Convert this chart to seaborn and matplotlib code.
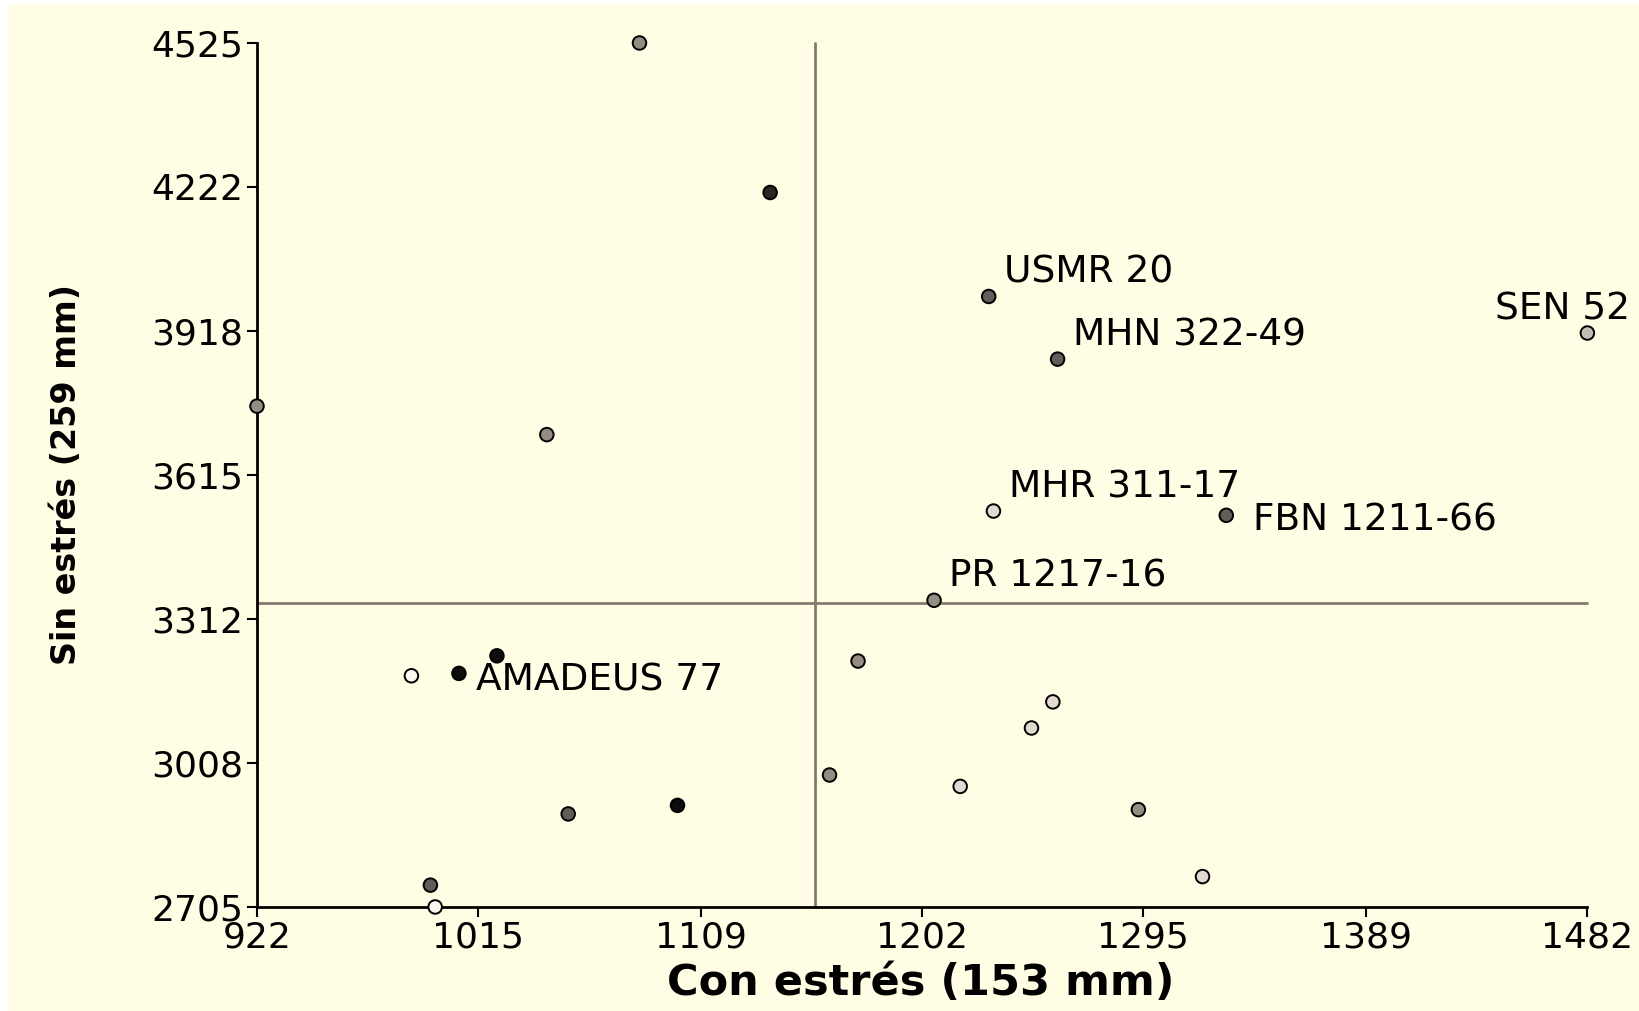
import matplotlib
matplotlib.use("Agg")
import matplotlib.pyplot as plt
import seaborn as sns
import pandas as pd
from matplotlib.patches import Rectangle

# values
con_estres = [1083, 1138, 1230, 1259, 1482, 922, 1044, 1232, 1330, 1207,
              1023, 987, 1007, 1175, 1257, 1248, 1163, 1218, 1293, 1320,
              1053, 1099, 995, 997]
sin_estres = [4525, 4210, 3991, 3859, 3914, 3760, 3700, 3539, 3530, 3351,
              3234, 3192, 3197, 3223, 3137, 3082, 2983, 2959, 2910, 2769,
              2901, 2919, 2751, 2705]
tono = ["medio", "negro2", "oscuro", "oscuro", "claro", "medio", "medio", "palido", "oscuro", "medio",
        "negro", "blanco", "negro", "medio", "palido", "palido", "medio", "palido", "medio", "palido",
        "oscuro", "negro", "oscuro", "blanco"]
etiquetas = ["", "", "USMR 20", "MHN 322-49", "SEN 52", "", "", "MHR 311-17", "FBN 1211-66", "PR 1217-16",
             "", "", "AMADEUS 77", "", "", "", "", "", "", "",
             "", "", "", ""]
x_ticks = [922, 1015, 1109, 1202, 1295, 1389, 1482]
y_ticks = [2705, 3008, 3312, 3615, 3918, 4222, 4525]
linea_v = 1157
linea_h = 3345

palette = {"medio": "#958d84", "negro2": "#2a2622", "oscuro": "#625d57",
           "claro": "#c4bdb5", "palido": "#e2dad2", "negro": "#0d0d0d",
           "blanco": "#fbf6ee"}

df = pd.DataFrame({"x": con_estres, "y": sin_estres, "tono": tono, "lab": etiquetas})

BG = "#fffde3"
sns.set_style("ticks")
plt.rcParams["font.family"] = ["DejaVu Sans"]

fig = plt.figure(figsize=(16.39, 10.11), dpi=100, facecolor="white")
fig.patches.append(Rectangle((8 / 1639, 0), 1, 1 - 4 / 1011, transform=fig.transFigure,
                             facecolor=BG, edgecolor="none", zorder=-10))
ax = fig.add_axes([0.1568, 0.1029, 0.8117, 0.8546])
ax.set_facecolor(BG)
ax.patch.set_alpha(0)

ax.plot([linea_v, linea_v], [y_ticks[0], y_ticks[-1]], color="#857a70", lw=2.0, zorder=1, clip_on=False)
ax.plot([x_ticks[0], x_ticks[-1]], [linea_h, linea_h], color="#857a70", lw=2.0, zorder=1, clip_on=False)

sns.scatterplot(data=df, x="x", y="y", hue="tono", palette=palette, s=95,
                edgecolor="black", linewidth=1.4, legend=False, ax=ax, clip_on=False, zorder=3)

offsets = {"USMR 20": (11, 10, "left", "baseline"),
           "MHN 322-49": (11, 10, "left", "baseline"),
           "SEN 52": (31, 10, "right", "baseline"),
           "MHR 311-17": (11, 10, "left", "baseline"),
           "FBN 1211-66": (19, -4, "left", "center"),
           "PR 1217-16": (11, 10, "left", "baseline"),
           "AMADEUS 77": (12, -5, "left", "center")}
for _, r in df[df["lab"] != ""].iterrows():
    dx, dy, ha, va = offsets[r["lab"]]
    ax.annotate(r["lab"], (r["x"], r["y"]), xytext=(dx, dy), textcoords="offset points",
                ha=ha, va=va, fontsize=27, color="black", annotation_clip=False)

ax.set_xlim(x_ticks[0], x_ticks[-1])
ax.set_ylim(y_ticks[0], y_ticks[-1])
ax.set_xticks(x_ticks)
ax.set_yticks(y_ticks)
ax.tick_params(axis="both", labelsize=26, length=7, width=1.5, direction="out",
               color="black", labelcolor="black", pad=3)
for s in ["top", "right"]:
    ax.spines[s].set_visible(False)
for s in ["left", "bottom"]:
    ax.spines[s].set_linewidth(2)
    ax.spines[s].set_color("black")

ax.set_xlabel("Con estrés (153 mm)", fontsize=31, fontweight="bold", color="black")
ax.set_ylabel("Sin estrés (259 mm)", fontsize=24, fontweight="bold", color="black")
ax.xaxis.set_label_coords(0.499, -0.064)
ax.yaxis.set_label_coords(-0.131, 0.5)

fig.savefig("out.png", dpi=100, facecolor=fig.get_facecolor())
